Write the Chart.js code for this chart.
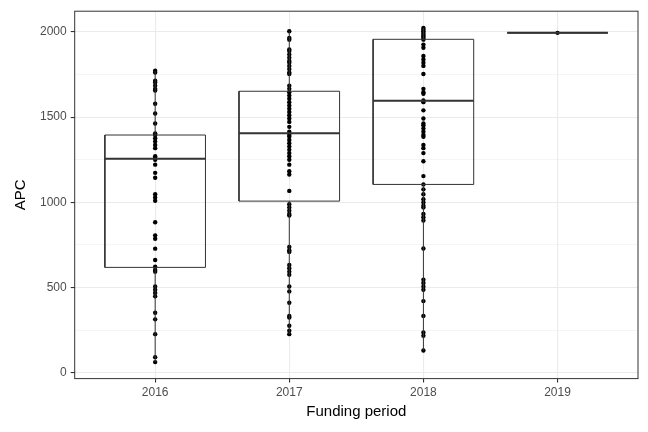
<!DOCTYPE html>
<html><head><meta charset="utf-8">
<script src="https://cdn.jsdelivr.net/npm/chart.js@4"></script>
<style>html,body{margin:0;padding:0;background:#fff}#w{width:648px;height:432px}</style>
</head><body><div id="w"><canvas id="c"></canvas></div>
<script>
const categories = ["2016","2017","2018","2019"];
const apc2016 = [1772,1762,1714,1704,1685,1665,1656,1579,1521,1463,1405,1395,1376,1357,1337,1318,1270,1260,1250,1221,1173,1144,1047,1028,1009,883,806,786,728,661,622,603,593,506,487,468,448,352,313,226,91,62];
const apc2017 = [2004,1965,1955,1897,1888,1868,1849,1830,1820,1801,1782,1762,1753,1685,1666,1646,1627,1608,1588,1569,1550,1530,1511,1492,1472,1443,1414,1395,1385,1366,1347,1327,1308,1289,1270,1250,1221,1183,1163,1067,989,970,951,931,922,738,719,709,632,613,593,574,506,477,410,333,323,275,246,226];
const apc2018 = [2023,2013,2004,1994,1984,1975,1965,1955,1926,1907,1859,1839,1820,1801,1753,1666,1646,1637,1598,1588,1540,1492,1463,1453,1434,1414,1395,1385,1337,1318,1289,1241,1154,1105,1076,1047,1018,999,980,970,931,912,893,729,545,526,506,487,420,333,236,217,130];
const apc2019 = [1995];
const seriesList = [apc2016, apc2017, apc2018, apc2019];
// box stats: [whiskerLow, q1, median, q3, whiskerHigh]
const boxStats = [[62,618,1256,1395,1772],[226,1007,1405,1652,2004],[130,1105,1596,1957,2023],[1995,1995,1995,1995,1995]];
const yTicks = [0,250,500,750,1000,1250,1500,1750,2000];
const hw = 0.375;

const datasets = [];
boxStats.forEach((s,i)=>{
  const x=i+1;
  const line=(pts,w)=>datasets.push({type:'scatter',data:pts,showLine:true,borderColor:'#333333',borderWidth:w,pointRadius:0,fill:false,tension:0});
  line([{x:x,y:s[0]},{x:x,y:s[1]}],1);
  line([{x:x,y:s[3]},{x:x,y:s[4]}],1);
  line([{x:x-hw,y:s[1]},{x:x+hw,y:s[1]},{x:x+hw,y:s[3]},{x:x-hw,y:s[3]},{x:x-hw,y:s[1]}],1);
  line([{x:x-hw,y:s[2]},{x:x+hw,y:s[2]}],2);
});
seriesList.forEach((arr,i)=>{
  datasets.push({type:'scatter',data:arr.map(v=>({x:i+1,y:v})),pointRadius:2.2,pointBackgroundColor:'#000',pointBorderWidth:0,showLine:false});
});

const border={id:'b',afterDraw(c){const a=c.chartArea,ctx=c.ctx;ctx.save();ctx.strokeStyle='#333';ctx.lineWidth=1;ctx.strokeRect(a.left,a.top,a.right-a.left,a.bottom-a.top);ctx.restore();}};

new Chart(document.getElementById('c'),{
  type:'scatter',data:{datasets},plugins:[border],
  options:{responsive:true,maintainAspectRatio:false,animation:false,
    layout:{padding:{top:8,right:10,left:8,bottom:7}},
    plugins:{legend:{display:false},tooltip:{enabled:false}},
    scales:{
      x:{type:'linear',min:0.4,max:4.6,
        afterBuildTicks(s){s.ticks=[1,2,3,4].map(v=>({value:v}));},
        ticks:{callback:(v)=>categories[v-1],color:'#4D4D4D',font:{family:'Liberation Sans',size:12},padding:3,maxRotation:0},
        grid:{color:'#EBEBEB',lineWidth:1.1,tickLength:4,tickColor:'#333'},border:{display:false},
        title:{display:true,text:'Funding period',color:'#000',font:{family:'Liberation Sans',size:15},padding:{top:0}}},
      y:{min:-35,max:2122,
        afterBuildTicks(s){s.ticks=yTicks.map(v=>({value:v}));},
        ticks:{callback:(v)=>v%500===0?String(v):'',color:'#4D4D4D',font:{family:'Liberation Sans',size:12},padding:4},
        grid:{color:'#EBEBEB',lineWidth:(c)=>c.tick&&c.tick.value%500===0?1.1:0.5,tickLength:4,tickColor:(c)=>c.tick&&c.tick.value%500===0?'#333':'rgba(0,0,0,0)'},border:{display:false},
        title:{display:true,text:'APC',color:'#000',font:{family:'Liberation Sans',size:15},padding:{bottom:6}}}
    }}
});
</script></body></html>
